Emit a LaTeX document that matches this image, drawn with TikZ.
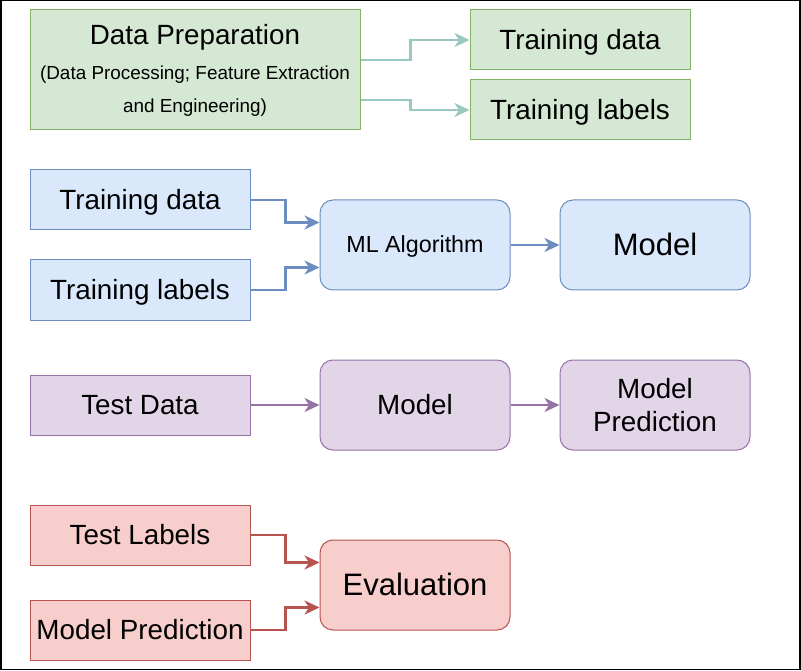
\documentclass[tikz,border=0pt]{standalone}
\usepackage{fontspec}
\setmainfont{Liberation Sans}
\usetikzlibrary{arrows.meta}

\definecolor{gfill}{HTML}{D5E8D4}
\definecolor{gline}{HTML}{82B366}
\definecolor{garrow}{HTML}{9AC7BF}
\definecolor{bfill}{HTML}{DAE8FC}
\definecolor{bline}{HTML}{6C8EBF}
\definecolor{pfill}{HTML}{E1D5E7}
\definecolor{pline}{HTML}{9673A6}
\definecolor{rfill}{HTML}{F8CECC}
\definecolor{rline}{HTML}{B85450}

\tikzset{
  base/.style={draw, line width=1pt, inner sep=0pt, align=center, text=black,
    font=\fontsize{27.8}{33.4}\selectfont},
  % fixed text boxes so single lines sit on a common baseline
  line28/.style={text height=25pt, text depth=5.5pt},
  line23/.style={text height=21pt, text depth=5.6pt},
  line31/.style={text height=27.5pt, text depth=6pt,
    font=\fontsize{31}{37}\selectfont},
  sqbox/.style={base, line28, minimum width=220pt, minimum height=60pt},
  roundbox/.style={base, rounded corners=13pt, minimum width=190pt, minimum height=90pt},
  gbox/.style={fill=gfill, draw=gline},
  bbox/.style={fill=bfill, draw=bline},
  pbox/.style={fill=pfill, draw=pline},
  redbox/.style={fill=rfill, draw=rline},
  link/.style={line width=2.4pt, -{Stealth[length=15pt,width=14pt,inset=4.5pt]}},
}

\begin{document}
\begin{tikzpicture}[x=1pt, y=-1pt]
\useasboundingbox (0,0) rectangle (801,671);
% outer frame
\draw[line width=1.5pt] (0.75,0.75) rectangle (800,669.5);

% --- data preparation
\node[base, gbox, minimum width=330pt, minimum height=120pt,
      font=\fontsize{18.9}{33}\selectfont] (prep) at (195,70)
  {{\fontsize{27.8}{33.4}\selectfont Data Preparation}\\[2pt]
   (Data Processing; Feature Extraction\\
   and Engineering)};
\node[sqbox, gbox] (gdata) at (580,40) {Training data};
\node[sqbox, gbox] (glabels) at (580,110) {Training labels};

\draw[link, garrow] ([yshift=10pt]prep.east) -- ++(50,0) |- (gdata.west);
\draw[link, garrow] ([yshift=-30pt]prep.east) -- ++(50,0) |- (glabels.west);

% --- training
\node[sqbox, bbox] (bdata) at (140,200) {Training data};
\node[sqbox, bbox] (blabels) at (140,290) {Training labels};
\node[roundbox, line23, bbox, font=\fontsize{23.3}{28}\selectfont] (ml) at (415,245) {ML Algorithm};
\node[roundbox, line31, bbox] (bmodel) at (655,245) {Model};

\draw[link, bline] (bdata.east) -- ++(35,0) |- ([yshift=22.5pt]ml.west);
\draw[link, bline] (blabels.east) -- ++(35,0) |- ([yshift=-22.5pt]ml.west);
\draw[link, bline] (ml.east) -- (bmodel.west);

% --- prediction
\node[sqbox, pbox] (pdata) at (140,405) {Test Data};
\node[roundbox, line28, pbox] (pmodel) at (415,405) {Model};
\node[roundbox, pbox] (ppred) at (655,405) {Model\\Prediction};

\draw[link, pline] (pdata.east) -- (pmodel.west);
\draw[link, pline] (pmodel.east) -- (ppred.west);

% --- evaluation
\node[sqbox, redbox] (rlabels) at (140,535) {Test Labels};
\node[sqbox, redbox] (rpred) at (140,630) {Model Prediction};
\node[roundbox, line31, redbox] (eval) at (415,585) {Evaluation};

\draw[link, rline] (rlabels.east) -- ++(35,0) |- ([yshift=22.5pt]eval.west);
\draw[link, rline] (rpred.east) -- ++(35,0) |- ([yshift=-22.5pt]eval.west);
\end{tikzpicture}
\end{document}
